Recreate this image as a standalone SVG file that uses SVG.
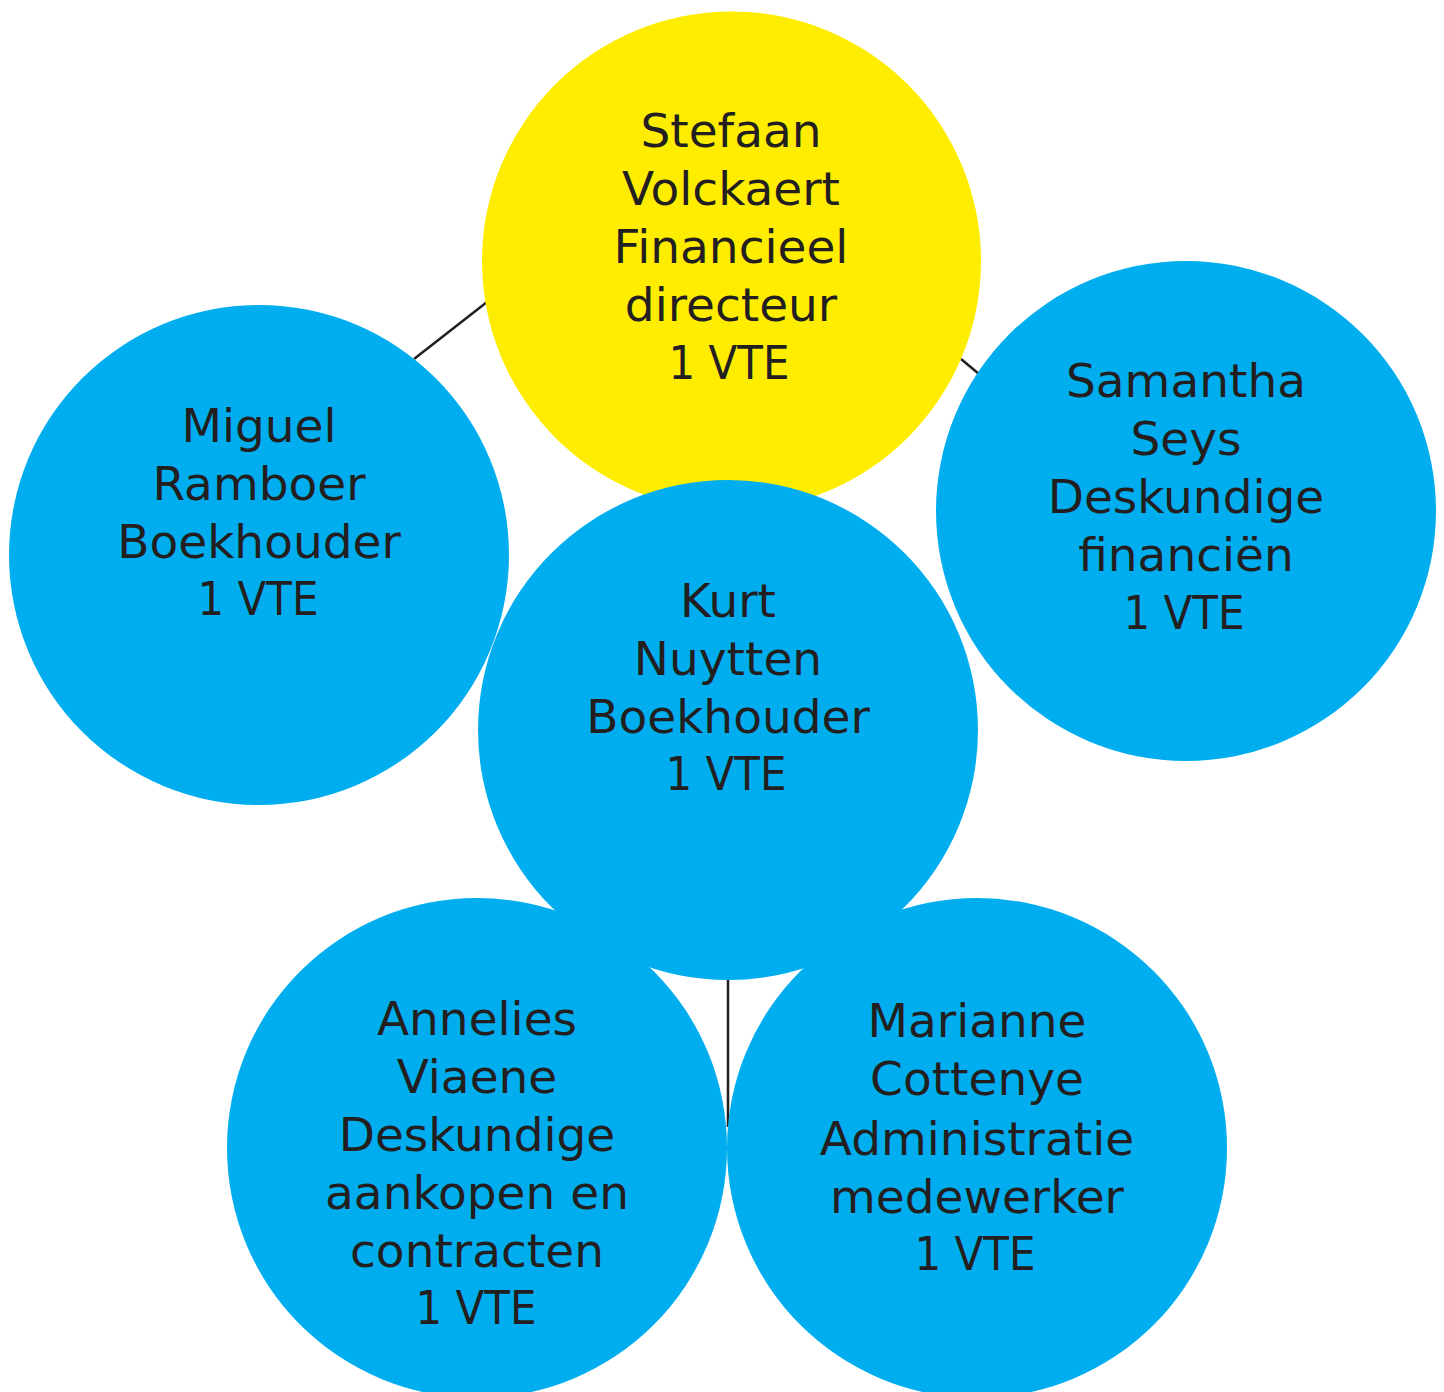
<svg xmlns="http://www.w3.org/2000/svg" width="1444" height="1392" viewBox="0 0 1444 1392">
<style>
.blue{fill:#00AEEF}
.yellow{fill:#FFED00}
.lbl{font-family:"DejaVu Sans","Liberation Sans",sans-serif;font-size:47px;fill:#231F20;text-anchor:middle}
.conn{stroke:#231F20;stroke-width:2.5;fill:none}
</style>
<rect width="1444" height="1392" fill="#FFFFFF"/>
<g id="connectors">
<line class="conn" x1="414" y1="359" x2="487" y2="302"/>
<line class="conn" x1="961" y1="359" x2="979" y2="374"/>
<line class="conn" x1="728" y1="975" x2="728" y2="1127"/>
</g>
<g id="node-stefaan">
<circle class="yellow" cx="731.5" cy="261" r="249.5"/>
<text class="lbl" x="731" y="147">Stefaan</text>
<text class="lbl" x="731" y="205">Volckaert</text>
<text class="lbl" x="731" y="263">Financieel</text>
<text class="lbl" x="731" y="321">directeur</text>
<text class="lbl" x="729" y="379" textLength="121" lengthAdjust="spacingAndGlyphs">1 VTE</text>
</g>
<g id="node-miguel">
<circle class="blue" cx="259" cy="555" r="250"/>
<text class="lbl" x="259" y="442">Miguel</text>
<text class="lbl" x="259" y="500">Ramboer</text>
<text class="lbl" x="259" y="558">Boekhouder</text>
<text class="lbl" x="258" y="615" textLength="121" lengthAdjust="spacingAndGlyphs">1 VTE</text>
</g>
<g id="node-samantha">
<circle class="blue" cx="1186" cy="511" r="250"/>
<text class="lbl" x="1186" y="397">Samantha</text>
<text class="lbl" x="1186" y="455">Seys</text>
<text class="lbl" x="1186" y="513">Deskundige</text>
<text class="lbl" x="1186" y="571">financiën</text>
<text class="lbl" x="1184" y="629" textLength="121" lengthAdjust="spacingAndGlyphs">1 VTE</text>
</g>
<g id="node-annelies">
<circle class="blue" cx="477" cy="1148" r="250"/>
<text class="lbl" x="477" y="1035">Annelies</text>
<text class="lbl" x="477" y="1093">Viaene</text>
<text class="lbl" x="477" y="1151">Deskundige</text>
<text class="lbl" x="477" y="1209">aankopen en</text>
<text class="lbl" x="477" y="1267">contracten</text>
<text class="lbl" x="476" y="1324" textLength="121" lengthAdjust="spacingAndGlyphs">1 VTE</text>
</g>
<g id="node-marianne">
<circle class="blue" cx="977" cy="1148" r="250"/>
<text class="lbl" x="977" y="1037">Marianne</text>
<text class="lbl" x="977" y="1095">Cottenye</text>
<text class="lbl" x="977" y="1155">Administratie</text>
<text class="lbl" x="977" y="1213">medewerker</text>
<text class="lbl" x="975" y="1270" textLength="121" lengthAdjust="spacingAndGlyphs">1 VTE</text>
</g>
<g id="node-kurt">
<circle class="blue" cx="728" cy="730" r="250"/>
<text class="lbl" x="728" y="617">Kurt</text>
<text class="lbl" x="728" y="675">Nuytten</text>
<text class="lbl" x="728" y="733">Boekhouder</text>
<text class="lbl" x="726" y="790" textLength="121" lengthAdjust="spacingAndGlyphs">1 VTE</text>
</g>
</svg>
